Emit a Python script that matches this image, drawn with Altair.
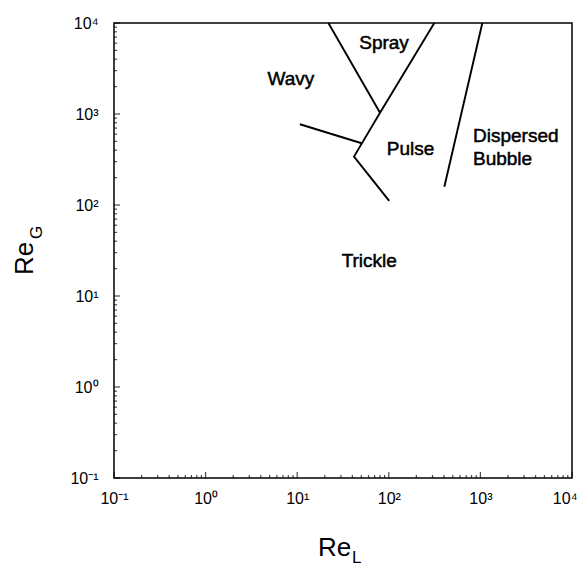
import altair as alt
import pandas as pd

# Axis decades and labels
decades = [0.1, 1, 10, 100, 1000, 10000]
decade_labels = ["10⁻¹", "10⁰", "10¹", "10²", "10³", "10⁴"]
minor_ticks = [m * d for d in [0.1, 1, 10, 100, 1000] for m in range(2, 10)]

# Regime boundary lines (Re_L, Re_G)
spray_left_x = [21.9, 80.2]
spray_left_y = [10000, 1033]
pulse_bound_x = [314, 80.2, 41.7, 101]
pulse_bound_y = [10000, 1033, 340, 111]
wavy_bound_x = [10.7, 50.6]
wavy_bound_y = [771, 477]
bubble_bound_x = [1050, 404]
bubble_bound_y = [10000, 159]

# Region labels
center_labels = ["Spray", "Wavy", "Pulse", "Trickle"]
center_x = [88.7, 8.55, 173, 61.2]
center_y = [6026, 2427, 409, 24.5]
left_labels = ["Dispersed", "Bubble"]
left_x = [830, 830]
left_y = [573, 320]

FONT = "Liberation Sans"

rows = []
for name, xs_, ys_ in [("spray", spray_left_x, spray_left_y),
                       ("pulse", pulse_bound_x, pulse_bound_y),
                       ("wavy", wavy_bound_x, wavy_bound_y),
                       ("bubble", bubble_bound_x, bubble_bound_y)]:
    for i, (a, b) in enumerate(zip(xs_, ys_)):
        rows.append({"seg": name, "i": i, "ReL": a, "ReG": b})
lines_df = pd.DataFrame(rows)

xs = alt.Scale(type="log", domain=[0.1, 10000], nice=False)
ys = alt.Scale(type="log", domain=[0.1, 10000], nice=False)

expr = ""
for d, lab in zip(decades[:-1], decade_labels[:-1]):
    expr += f"datum.value < {d * 1.5} ? '{lab}' : "
expr += f"'{decade_labels[-1]}'"

xaxis = alt.Axis(values=decades, labelExpr=expr, ticks=False, domain=False, grid=False,
                 labelFont=FONT, labelFontSize=16, labelColor="black", labelPadding=12,
                 title=None, labelFlush=False,
                 labelAlign={"condition": {"test": "datum.value > 5000", "value": "right"},
                             "value": "center"},
                 labelOffset={"condition": {"test": "datum.value > 5000", "value": 5},
                              "value": 0})
yaxis = alt.Axis(values=decades, labelExpr=expr, ticks=False, domain=False, grid=False,
                 labelFont=FONT, labelFontSize=16, labelColor="black", labelPadding=16,
                 title=None, labelFlush=False)

lines = alt.Chart(lines_df).mark_line(color="black", strokeWidth=1.9).encode(
    x=alt.X("ReL:Q", scale=xs, axis=xaxis),
    y=alt.Y("ReG:Q", scale=ys, axis=yaxis),
    detail="seg:N",
    order="i:Q",
)

cdf = pd.DataFrame({"t": center_labels, "x": center_x, "y": center_y})
ctext = alt.Chart(cdf).mark_text(font=FONT, fontSize=19, color="black", align="center",
                                 baseline="middle", stroke="black", strokeWidth=0.5).encode(
    x=alt.X("x:Q", scale=xs, axis=xaxis), y=alt.Y("y:Q", scale=ys, axis=yaxis), text="t:N")

ldf = pd.DataFrame({"t": left_labels, "x": left_x, "y": left_y})
ltext = alt.Chart(ldf).mark_text(font=FONT, fontSize=19, color="black", align="left",
                                 baseline="middle", stroke="black", strokeWidth=0.5).encode(
    x=alt.X("x:Q", scale=xs, axis=xaxis), y=alt.Y("y:Q", scale=ys, axis=yaxis), text="t:N")

# inward ticks
maj_df = pd.DataFrame({"v": decades})
min_df = pd.DataFrame({"v": minor_ticks})

xmaj = alt.Chart(maj_df).mark_tick(orient="vertical", size=6, thickness=1.2, yOffset=-3,
                                   color="black").encode(
    x=alt.X("v:Q", scale=xs, axis=xaxis),
    y=alt.YDatum(0.1, type="quantitative", scale=ys, axis=yaxis))
xmin = alt.Chart(min_df).mark_tick(orient="vertical", size=3, thickness=1.2, yOffset=-1.5,
                                   color="black").encode(
    x=alt.X("v:Q", scale=xs, axis=xaxis),
    y=alt.YDatum(0.1, type="quantitative", scale=ys, axis=yaxis))
ymaj = alt.Chart(maj_df).mark_tick(orient="horizontal", size=6, thickness=1.2, xOffset=3,
                                   color="black").encode(
    y=alt.Y("v:Q", scale=ys, axis=yaxis),
    x=alt.XDatum(0.1, type="quantitative", scale=xs, axis=xaxis))
ymin = alt.Chart(min_df).mark_tick(orient="horizontal", size=3, thickness=1.2, xOffset=1.5,
                                   color="black").encode(
    y=alt.Y("v:Q", scale=ys, axis=yaxis),
    x=alt.XDatum(0.1, type="quantitative", scale=xs, axis=xaxis))

# axis titles with subscripts
tdf = pd.DataFrame({"a": [0]})
re_l = alt.Chart(tdf).mark_text(text="Re", font=FONT, fontSize=26, color="black", align="left",
                                baseline="alphabetic").encode(x=alt.value(204), y=alt.value(533))
sub_l = alt.Chart(tdf).mark_text(text="L", font=FONT, fontSize=17, color="black", align="left",
                                 baseline="alphabetic").encode(x=alt.value(238), y=alt.value(540))
re_g = alt.Chart(tdf).mark_text(text="Re", font=FONT, fontSize=26, color="black", align="left",
                                baseline="alphabetic", angle=270).encode(x=alt.value(-81), y=alt.value(252))
sub_g = alt.Chart(tdf).mark_text(text="G", font=FONT, fontSize=17, color="black", align="left",
                                 baseline="alphabetic", angle=270).encode(x=alt.value(-72), y=alt.value(216))

chart = alt.layer(lines, ctext, ltext, xmaj, xmin, ymaj, ymin, re_l, sub_l, re_g, sub_g).properties(
    width=458, height=455,
    autosize=alt.AutoSizeParams(type="none"),
    padding={"left": 106, "top": 15, "right": 5, "bottom": 90},
    background="white",
).configure_view(stroke="black", strokeWidth=1.5)

chart.save("out.html", embed_options={"renderer": "svg", "actions": False})
